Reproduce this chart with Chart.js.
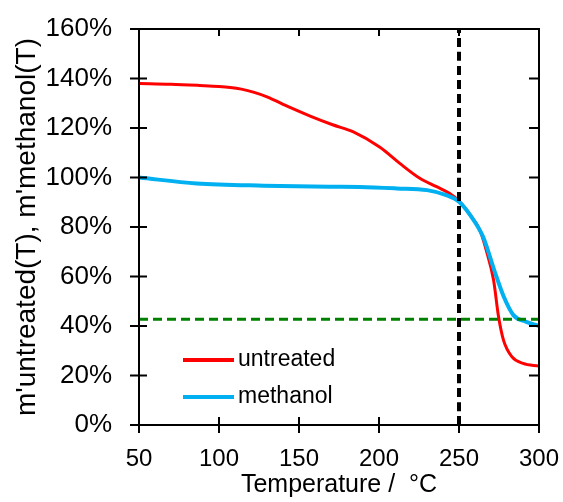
<!DOCTYPE html>
<html>
<head>
<meta charset="utf-8">
<script src="https://cdn.jsdelivr.net/npm/chart.js@4.4.1/dist/chart.umd.min.js"></script>
<style>
  html, body { margin: 0; padding: 0; background: #fff; }
  #wrap { width: 563px; height: 502px; }
</style>
</head>
<body>
<div id="wrap"><canvas id="chart"></canvas></div>
<script>
// values, temperature in °C, mass in %
const untreatedT = [50, 70, 88, 100, 107, 114, 122, 130, 144, 157, 171, 184, 200.6, 213, 225.5, 236, 244, 250, 257, 263, 267, 271.6, 274.7, 277.8, 283, 290, 300];
const untreatedM = [138, 137.7, 137.2, 136.8, 136.4, 135.7, 134.4, 132.6, 128.4, 124.8, 121.3, 118.4, 112.2, 105.7, 99.7, 96.3, 93.6, 90.5, 84.8, 78.8, 70.7, 58.6, 43.8, 34.3, 27.6, 24.9, 23.8];
const methanolT = [50, 86, 128, 169, 188, 211, 230, 242, 250, 257, 265, 272, 278, 284, 292, 300];
const methanolM = [100, 97.6, 96.7, 96.3, 96.2, 95.6, 94.9, 92.9, 90.2, 84.8, 76.1, 62.6, 51.8, 44.4, 41.7, 40];
const markerT = 250;
const thresholdM = 42.7;
const xTicks = [50, 100, 150, 200, 250, 300];
const yTicks = [0, 20, 40, 60, 80, 100, 120, 140, 160];

function pts(xs, ys) {
    return xs.map((x, i) => ({ x: x, y: ys[i] }));
}

const font = "'Liberation Sans', Arial, sans-serif";

// tick marks, the top/right frame and the legend inside the plot
const frame = {
    id: 'frame',
    afterDraw(chart) {
        const ctx = chart.ctx;
        const a = chart.chartArea;
        const xs = chart.scales.x, ys = chart.scales.y;
        ctx.save();
        ctx.strokeStyle = '#000';
        ctx.lineWidth = 2;
        ctx.beginPath();
        ctx.moveTo(a.left, a.top); ctx.lineTo(a.right, a.top); ctx.lineTo(a.right, a.bottom);
        ctx.moveTo(a.left, a.top); ctx.lineTo(a.left, a.bottom); ctx.lineTo(a.right, a.bottom);
        xTicks.forEach(v => {
            const px = xs.getPixelForValue(v);
            ctx.moveTo(px, a.bottom - 8); ctx.lineTo(px, a.bottom + 8);
            ctx.moveTo(px, a.top); ctx.lineTo(px, a.top + 7);
        });
        yTicks.forEach(v => {
            const py = ys.getPixelForValue(v);
            ctx.moveTo(a.left - 9, py); ctx.lineTo(a.left + 8, py);
            ctx.moveTo(a.right - 10, py); ctx.lineTo(a.right, py);
        });
        ctx.stroke();

        const items = chart.data.datasets.filter(d => d.inLegend);
        items.sort((p, q) => p.legendPos - q.legendPos);
        ctx.font = '23px ' + font;
        ctx.textBaseline = 'middle';
        ctx.fillStyle = '#000';
        items.forEach((d, i) => {
            const y = 360 + i * 37;
            ctx.strokeStyle = d.borderColor;
            ctx.lineWidth = 4;
            ctx.beginPath();
            ctx.moveTo(183, y); ctx.lineTo(234, y);
            ctx.stroke();
            ctx.fillText(d.label, 238, y);
        });
        ctx.restore();
    }
};

new Chart(document.getElementById('chart'), {
    type: 'scatter',
    data: {
        datasets: [
            {
                label: 'untreated',
                data: pts(untreatedT, untreatedM),
                borderColor: '#FF0000',
                borderWidth: 3,
                order: 3,
                inLegend: true,
                legendPos: 0
            },
            {
                label: 'methanol',
                data: pts(methanolT, methanolM),
                borderColor: '#00B0F0',
                borderWidth: 4,
                order: 2,
                inLegend: true,
                legendPos: 1
            },
            {
                label: 'threshold',
                data: pts([50, 300], [thresholdM, thresholdM]),
                borderColor: '#008000',
                borderWidth: 3,
                borderDash: [9, 5],
                tension: 0,
                order: 1
            },
            {
                label: 'marker',
                data: pts([markerT, markerT], [0, 160]),
                borderColor: '#000000',
                borderWidth: 4,
                borderDash: [9, 5],
                tension: 0,
                order: 0
            }
        ]
    },
    options: {
        responsive: true,
        maintainAspectRatio: false,
        animation: false,
        showLine: true,
        datasets: {
            scatter: {
                pointRadius: 0,
                pointHoverRadius: 0,
                tension: 0.4,
                cubicInterpolationMode: 'monotone'
            }
        },
        layout: { padding: { top: 29, right: 24, left: 0, bottom: 0 } },
        plugins: {
            legend: { display: false },
            tooltip: { enabled: false }
        },
        scales: {
            x: {
                type: 'linear',
                min: 50,
                max: 300,
                afterFit(s) { s.height = 77; s.paddingLeft = 0; s.paddingRight = 0; },
                afterBuildTicks(s) { s.ticks = xTicks.map(v => ({ value: v })); },
                grid: { display: false },
                border: { display: false },
                ticks: {
                    color: '#000',
                    padding: 12,
                    maxRotation: 0,
                    font: { family: font, size: 24 }
                },
                title: {
                    display: true,
                    text: 'Temperature /  °C',
                    color: '#000',
                    padding: { top: 0, bottom: 2 },
                    font: { family: font, size: 25 }
                }
            },
            y: {
                min: 0,
                max: 160,
                afterFit(s) { s.width = 139; s.paddingTop = 0; s.paddingBottom = 0; },
                afterBuildTicks(s) { s.ticks = yTicks.map(v => ({ value: v })); },
                grid: { display: false },
                border: { display: false },
                ticks: {
                    color: '#000',
                    padding: 19,
                    font: { family: font, size: 26 },
                    callback: v => v + '%'
                },
                title: {
                    display: true,
                    text: "m'untreated(T), m'methanol(T)",
                    color: '#000',
                    padding: { top: 10, bottom: 0 },
                    font: { family: font, size: 28 }
                }
            }
        }
    },
    plugins: [frame]
});
</script>
</body>
</html>
